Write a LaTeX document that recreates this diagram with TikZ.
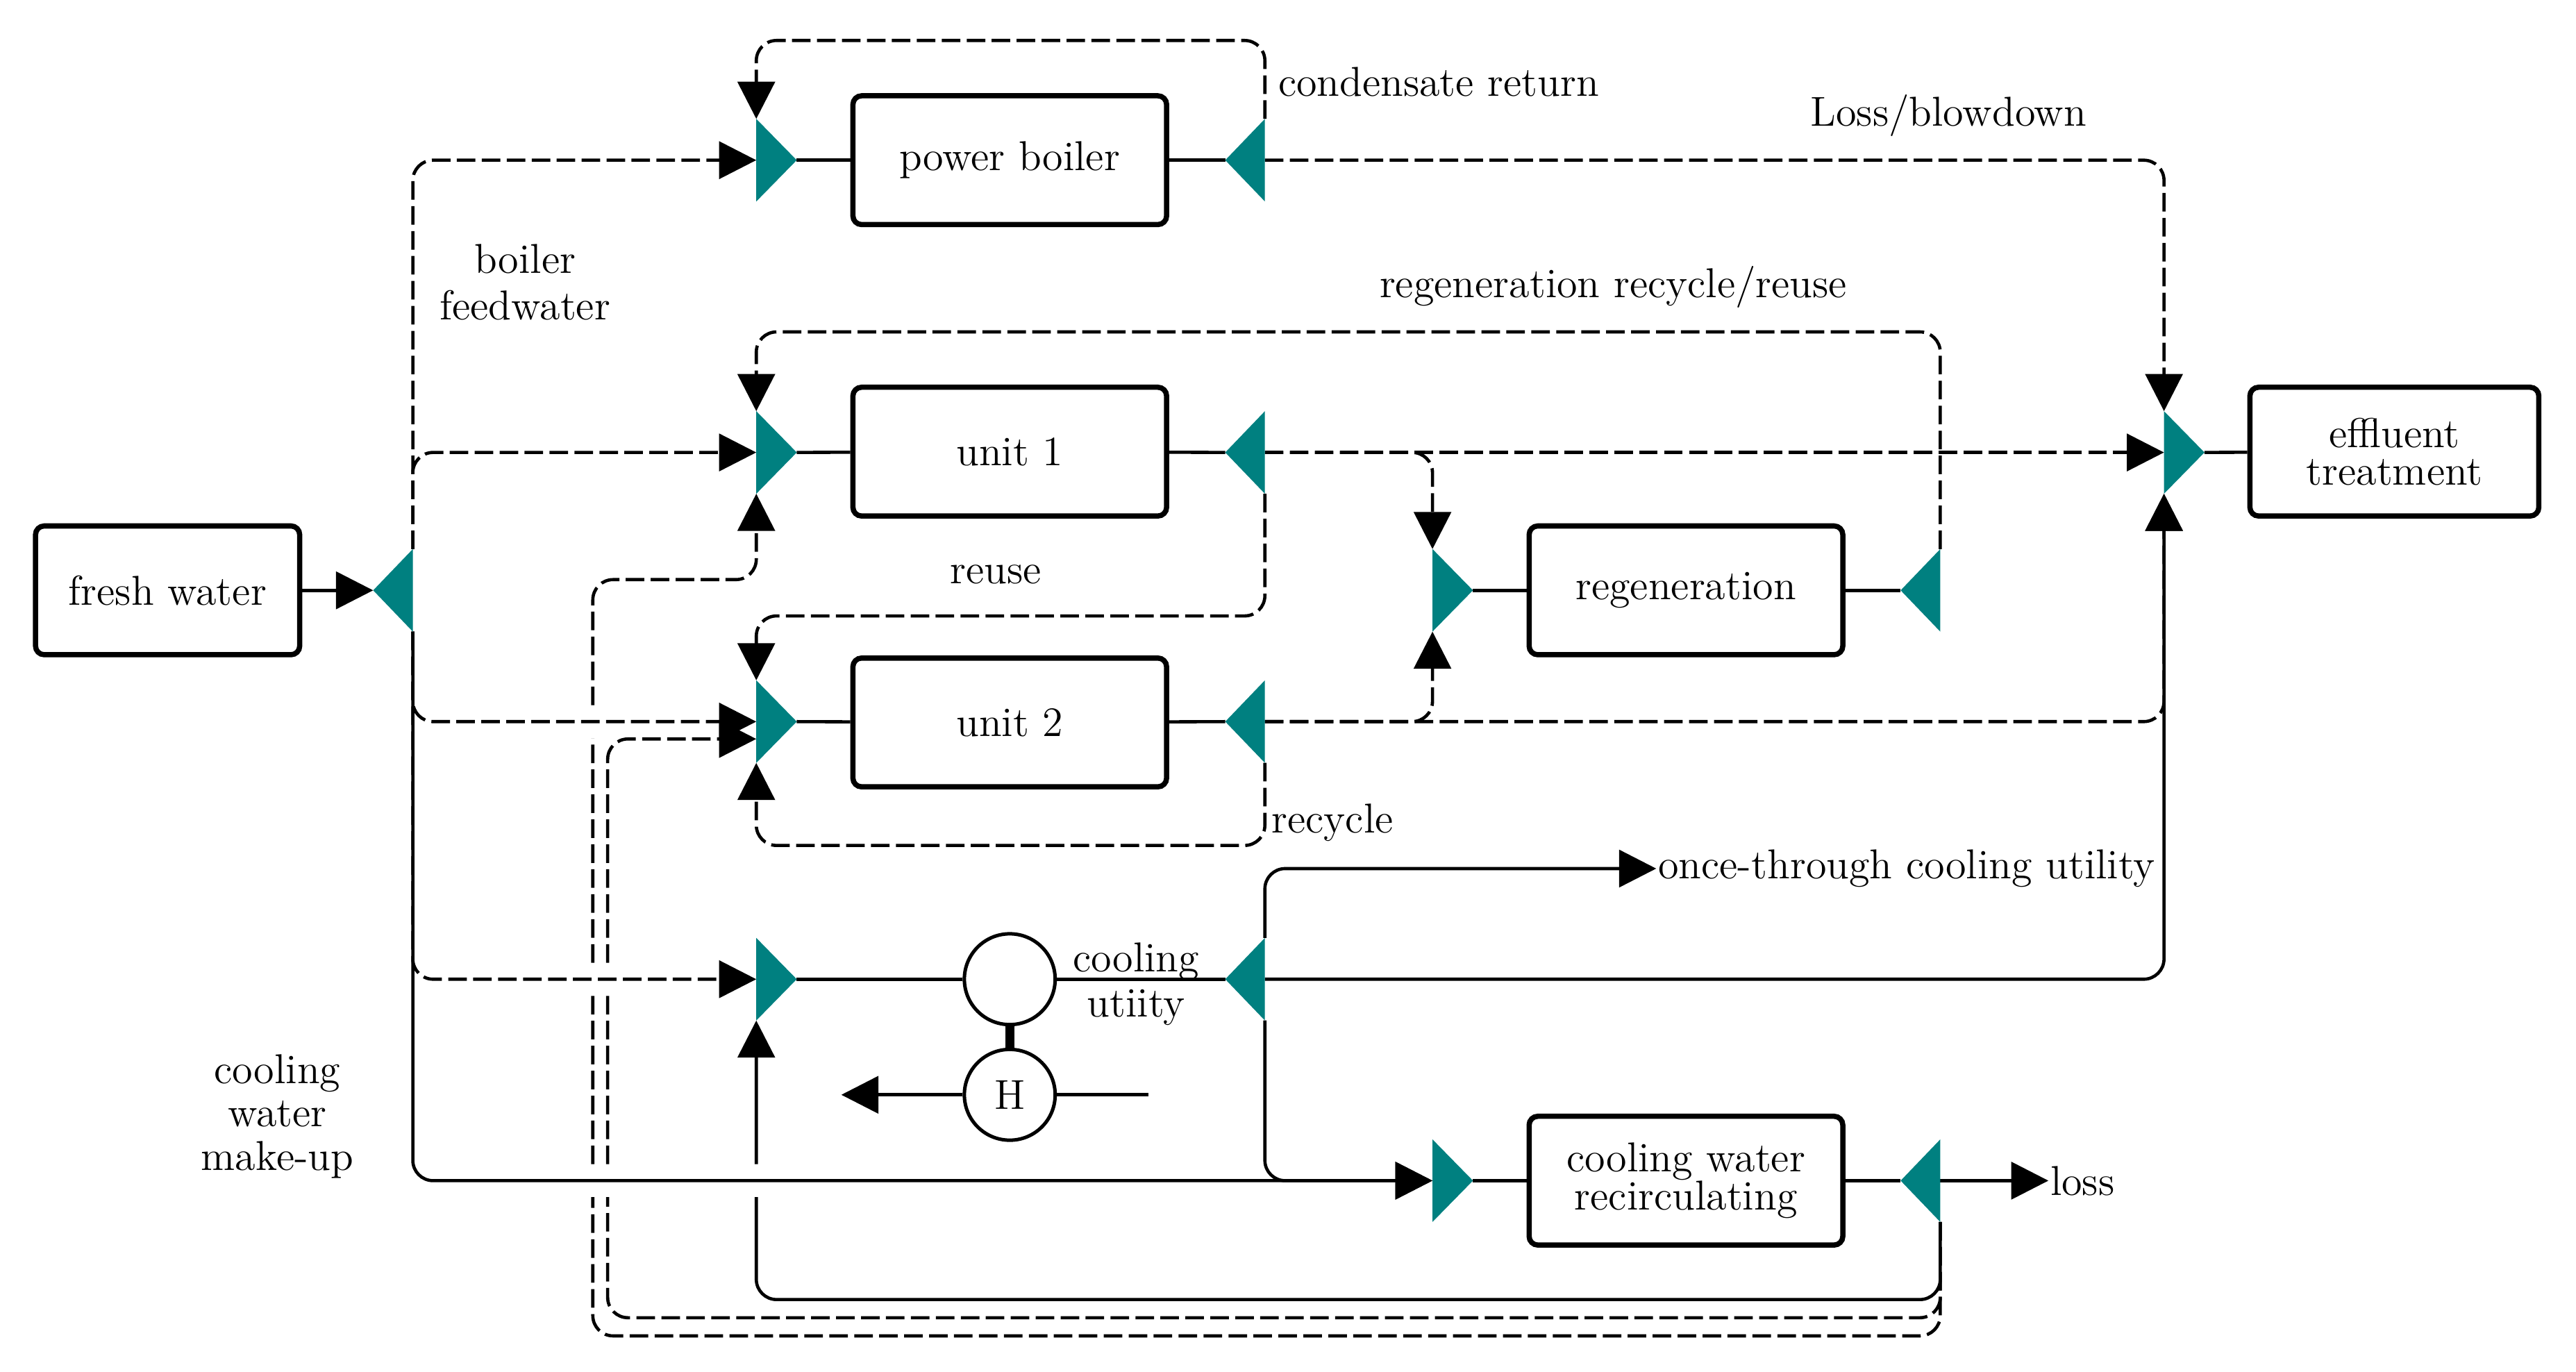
\documentclass[tikz,border=0pt]{standalone}
\usepackage{tikz}
\usetikzlibrary{arrows.meta}
\definecolor{mixcol}{RGB}{0,128,128}

\begin{document}
\begin{tikzpicture}[x=0.02cm,y=-0.02cm,
	font=\fontsize{14.4}{16}\selectfont,
	pipe/.style={line width=1.1pt},
	flow/.style={pipe,rounded corners=7pt,-{Triangle[length=0.45cm,width=0.45cm]}},
	dflow/.style={flow,dash pattern=on 6.4pt off 2.2pt},
	unit/.style={draw,line width=1.8pt,rounded corners=3pt,minimum width=3.8cm,minimum height=1.56cm,align=center,font=\fontsize{14.4}{13}\selectfont},
	hx/.style={draw,circle,line width=1.2pt,minimum size=1.1cm,inner sep=0pt},
	lbl/.style={align=center,inner sep=1pt}]
	\useasboundingbox (0,0) rectangle (1560,830.5);
	
	% mixers and splitters
	\foreach \n/\x/\y in {m-pb/458/97,m-u1/458/274,m-u2/458/437,m-cu/458/593,m-rg/867.5/357.5,m-cw/867.5/715,m-ef/1310.5/274}{
		\coordinate (\n) at (\x,\y);
		\coordinate (\n-t) at (\x,\y-25);
		\coordinate (\n-b) at (\x,\y+25);
		\coordinate (\n-o) at (\x+24.5,\y);
	}
	\foreach \n/\x/\y in {s-fw/250/357.5,s-pb/766/97,s-u1/766/274,s-u2/766/437,s-cu/766/593,s-rg/1175/357.5,s-cw/1175/715}{
		\coordinate (\n) at (\x,\y);
		\coordinate (\n-t) at (\x,\y-25);
		\coordinate (\n-b) at (\x,\y+25);
		\coordinate (\n-i) at (\x-24,\y);
	}
	\coordinate (m-u2-x) at (458,447.5);
	\coordinate (ot) at (1003,526);
	\coordinate (ls) at (1240.5,715);
	\coordinate (hout) at (509.5,663);
	\coordinate (hin) at (695.5,663);
	
	% units
	\node[unit,minimum width=3.2cm] (fresh) at (101.5,357.5) {fresh water};
	\node[unit] (pb) at (611.5,97) {power boiler};
	\node[unit] (u1) at (611.5,273.5) {unit 1};
	\node[unit] (u2) at (611.5,437.5) {unit 2};
	\node[unit] (rg) at (1021,357.5) {regeneration};
	\node[unit] (cw) at (1021,715) {cooling water\\recirculating};
	\node[unit,minimum width=3.5cm] (ef) at (1450,273.5) {effluent\\treatment};
	\node[hx] (cool) at (611.5,593) {};
	\node[hx] (heat) at (611.5,663) {H};
	
	\draw[pipe] (m-pb-o) -- (pb);
	\draw[pipe] (pb) -- (s-pb-i);
	\draw[pipe] (m-u1-o) -- (u1);
	\draw[pipe] (u1) -- (s-u1-i);
	\draw[pipe] (m-u2-o) -- (u2);
	\draw[pipe] (u2) -- (s-u2-i);
	\draw[pipe] (m-rg-o) -- (rg);
	\draw[pipe] (rg) -- (s-rg-i);
	\draw[pipe] (m-cw-o) -- (cw);
	\draw[pipe] (cw) -- (s-cw-i);
	\draw[pipe] (m-ef-o) -- (ef);
	\draw[pipe] (m-cu-o) -- (cool);
	\draw[pipe] (cool) -- (s-cu-i);
	\draw[line width=3pt] (cool) -- (heat);
	\draw[flow] (heat) -- (hout);
	\draw[pipe] (heat) -- (hin);
	
	% returns along the bottom
	\draw[flow] (s-cw-b) |- (458,787) -- (458,725) (458,705) -- (m-cu-b);
	\draw[dflow] (s-cw-b) |- (368,798) -- (368,725) (368,705) -- (368,603) (368,583) |- (m-u2-x);
	\draw[dflow] (s-cw-b) |- (359,809) -- (359,725) (359,705) -- (359,603) (359,583) -- (359,447) (359,427) |- (458,351) -- (m-u1-b);
	
	% fresh water
	\draw[flow] (fresh) -- (s-fw-i);
	\draw[flow] (s-fw-b) |- (m-cw);
	\draw[dflow] (s-fw-t) |- (m-pb);
	\draw[dflow] (s-fw-t) |- (m-u1);
	\draw[dflow] (s-fw-b) |- (m-u2);
	\draw[dflow] (s-fw-b) |- (m-cu);
	
	% boiler
	\draw[dflow] (s-pb-t) -- ++(0,-47.5) -| (m-pb-t);
	\draw[dflow] (s-pb) -| (m-ef-t);
	
	% units 1 and 2
	\draw[dflow] (s-u1) -- (m-ef);
	\draw[dflow] (s-u1) -| (m-rg-t);
	\draw[dflow] (s-u1-b) -- ++(0,74) -| (m-u2-t);
	\draw[dflow] (s-u2) -| (m-rg-b);
	\draw[dflow] (s-u2) -| (m-ef-b);
	\draw[dflow] (s-u2-b) -- ++(0,50) -| (m-u2-b);
	\draw[dflow] (s-rg-t) -- ++(0,-131.5) -| (m-u1-t);
	
	% cooling
	\draw[flow] (s-cu) -| (m-ef-b);
	\draw[flow] (s-cu-t) |- (ot);
	\draw[flow] (s-cu-b) |- (m-cw);
	\draw[flow] (s-cw) -- (ls);
	
	\foreach \n in {m-pb,m-u1,m-u2,m-cu,m-rg,m-cw,m-ef}
		\fill[mixcol] (\n-t) -- (\n-o) -- (\n-b) -- cycle;
	\foreach \n in {s-fw,s-pb,s-u1,s-u2,s-cu,s-rg,s-cw}
		\fill[mixcol] (\n-t) -- (\n-i) -- (\n-b) -- cycle;
	
	% labels
	\node[lbl,font=\fontsize{14.4}{16}\selectfont] (l-bfw) at (318,171) {boiler\\feedwater};
	\node[lbl,right] (l-cr) at (772,49.6) {condensate return};
	\node[lbl] (l-lb) at (1180,70) {Loss/blowdown};
	\node[lbl] (l-rr) at (977,174) {regeneration recycle/reuse};
	\node[lbl] (l-re) at (603,348) {reuse};
	\node[lbl,right] (l-rc) at (768,498) {recycle};
	\node[lbl,right,inner sep=0.5pt] (l-ot) at (ot) {once-through cooling utility};
	\node[lbl,font=\fontsize{14.4}{15.5}\selectfont] (l-cu) at (688,596) {cooling\\utiity};
	\node[lbl,font=\fontsize{14.4}{15}\selectfont] (l-mk) at (168,676) {cooling\\water\\make-up};
	\node[lbl,right,inner sep=0.5pt] (l-ls) at (ls) {loss};
\end{tikzpicture}
\end{document}
